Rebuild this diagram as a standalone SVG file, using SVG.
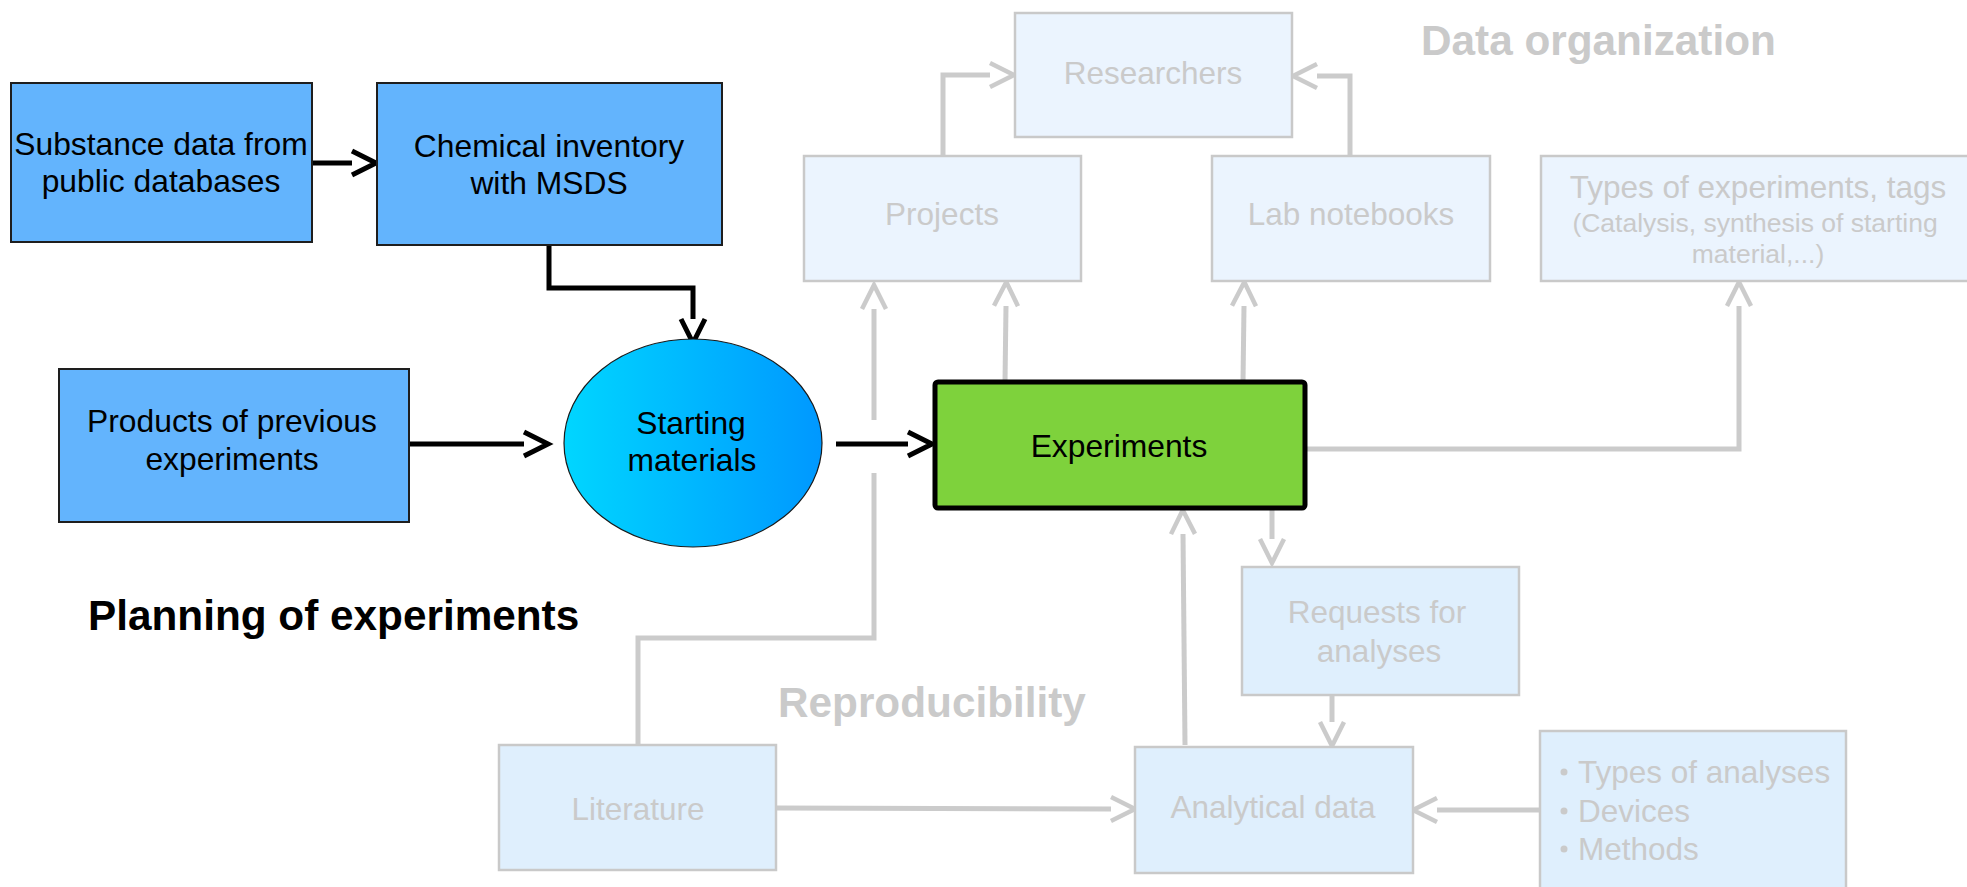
<svg xmlns="http://www.w3.org/2000/svg" width="1967" height="887" viewBox="0 0 1967 887">
<defs>
<style>
text{font-family:"Liberation Sans",Arial,sans-serif;}
.lbl{font-size:31.8px;text-anchor:middle;fill:#000;}
.glbl{font-size:31.5px;text-anchor:middle;fill:#cacaca;}
.title{font-size:42.3px;font-weight:bold;}
.blue{fill:#63b4fd;stroke:#1e1e1e;stroke-width:2;}
.gtop{fill:#ebf4fe;stroke:#c9c9c9;stroke-width:2.5;}
.gbot{fill:#dfeffd;stroke:#c9c9c9;stroke-width:2.5;}
.bk{fill:none;stroke:#000;stroke-width:5;}
.gr{fill:none;stroke:#cbcbcb;stroke-width:5;}
</style>
<linearGradient id="sg" x1="0" y1="0" x2="1" y2="0">
<stop offset="0" stop-color="#00d6ff"/>
<stop offset="1" stop-color="#0098ff"/>
</linearGradient>
<marker id="ab" markerUnits="userSpaceOnUse" markerWidth="40" markerHeight="40" refX="2" refY="15" orient="auto" overflow="visible">
<path d="M2,3 L26,15 L2,27" fill="none" stroke="#000" stroke-width="5"/>
</marker>
<marker id="ag" markerUnits="userSpaceOnUse" markerWidth="40" markerHeight="40" refX="2" refY="15" orient="auto" overflow="visible">
<path d="M2,3 L26,15 L2,27" fill="none" stroke="#cbcbcb" stroke-width="4.5"/>
</marker>
</defs>

<g id="connectors">
<path class="bk" d="M312,163 H352" marker-end="url(#ab)"/>
<path class="bk" d="M549,245 V288 H693 V319" marker-end="url(#ab)"/>
<path class="bk" d="M409,444 H524" marker-end="url(#ab)"/>
<path class="bk" d="M836,444 H908" marker-end="url(#ab)"/>
<path class="gr" d="M638,745 V638 H874 V473"/>
<path class="gr" d="M874,420 V309" marker-end="url(#ag)"/>
<path class="gr" d="M1005,382 L1006,306" marker-end="url(#ag)"/>
<path class="gr" d="M1243,382 L1244,306" marker-end="url(#ag)"/>
<path class="gr" d="M1305,449 H1739 V306" marker-end="url(#ag)"/>
<path class="gr" d="M943,156 V75 H990" marker-end="url(#ag)"/>
<path class="gr" d="M1350,156 V76 H1317" marker-end="url(#ag)"/>
<path class="gr" d="M1272,508 V539" marker-end="url(#ag)"/>
<path class="gr" d="M1332,695 V722" marker-end="url(#ag)"/>
<path class="gr" d="M1185,745 L1183,534" marker-end="url(#ag)"/>
<path class="gr" d="M776,808 L1111,809" marker-end="url(#ag)"/>
<path class="gr" d="M1540,810 H1437" marker-end="url(#ag)"/>
</g>

<g id="substance">
<rect class="blue" x="11" y="83" width="301" height="159"/>
<text class="lbl" x="161" y="155">Substance data from</text>
<text class="lbl" x="161" y="192">public databases</text>
</g>
<g id="inventory">
<rect class="blue" x="377" y="83" width="345" height="162"/>
<text class="lbl" x="549" y="157">Chemical inventory</text>
<text class="lbl" x="549" y="194">with MSDS</text>
</g>
<g id="products">
<rect class="blue" x="59" y="369" width="350" height="153"/>
<text class="lbl" x="232" y="432">Products of previous</text>
<text class="lbl" x="232" y="470">experiments</text>
</g>
<g id="starting">
<ellipse cx="693" cy="443" rx="129" ry="104" fill="url(#sg)" stroke="#1a1a1a" stroke-width="1.2"/>
<text class="lbl" x="691" y="434">Starting</text>
<text class="lbl" x="692" y="471">materials</text>
</g>
<g id="experiments">
<rect x="935" y="382" width="370" height="126" rx="3" fill="#7ed23c" stroke="#000" stroke-width="5"/>
<text class="lbl" x="1119" y="457">Experiments</text>
</g>
<g id="researchers">
<rect class="gtop" x="1015" y="13" width="277" height="124"/>
<text class="glbl" x="1153" y="84">Researchers</text>
</g>
<g id="projects">
<rect class="gtop" x="804" y="156" width="277" height="125"/>
<text class="glbl" x="942" y="225">Projects</text>
</g>
<g id="labnotebooks">
<rect class="gtop" x="1212" y="156" width="278" height="125"/>
<text class="glbl" x="1351" y="225">Lab notebooks</text>
</g>
<g id="types-experiments">
<rect class="gtop" x="1541" y="156" width="440" height="125"/>
<text class="glbl" x="1758" y="198">Types of experiments, tags</text>
<text class="glbl" x="1755" y="232" style="font-size:26.5px">(Catalysis, synthesis of starting</text>
<text class="glbl" x="1758" y="263" style="font-size:26.5px">material,...)</text>
</g>
<g id="requests">
<rect class="gbot" x="1242" y="567" width="277" height="128"/>
<text class="glbl" x="1377" y="623">Requests for</text>
<text class="glbl" x="1379" y="662">analyses</text>
</g>
<g id="analytical">
<rect class="gbot" x="1135" y="747" width="278" height="126"/>
<text class="glbl" x="1273" y="818">Analytical data</text>
</g>
<g id="literature">
<rect class="gbot" x="499" y="745" width="277" height="125"/>
<text class="glbl" x="638" y="820">Literature</text>
</g>
<g id="types-analyses">
<rect class="gbot" x="1540" y="731" width="306" height="170"/>
<g style="font-size:31.5px;fill:#cacaca">
<circle cx="1564" cy="772" r="3.5" fill="#cacaca"/>
<circle cx="1564" cy="811" r="3.5" fill="#cacaca"/>
<circle cx="1564" cy="849" r="3.5" fill="#cacaca"/>
<text x="1578" y="783">Types of analyses</text>
<text x="1578" y="822">Devices</text>
<text x="1578" y="860">Methods</text>
</g>
</g>

<g id="titles">
<text class="title" x="88" y="630" fill="#000">Planning of experiments</text>
<text class="title" x="1421" y="55" fill="#cacaca">Data organization</text>
<text class="title" x="778" y="717" fill="#cacaca">Reproducibility</text>
</g>
</svg>
